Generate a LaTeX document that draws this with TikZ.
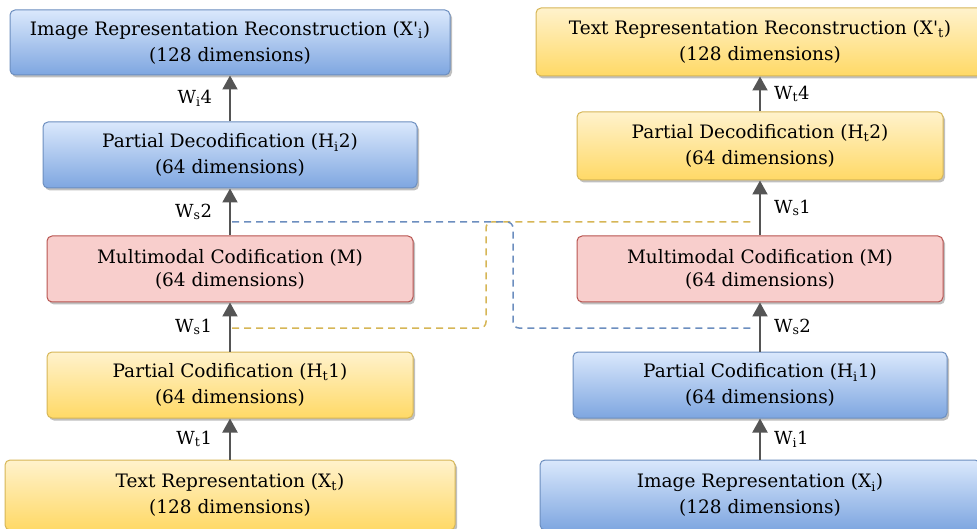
\documentclass[tikz,border=0pt]{standalone}
\usepackage{fontspec}
\setmainfont{DejaVu Serif}
\usetikzlibrary{shadows,arrows.meta}
\definecolor{blueA}{HTML}{DAE8FC}
\definecolor{blueB}{HTML}{7EA6E0}
\definecolor{blueS}{HTML}{6C8EBF}
\definecolor{yelA}{HTML}{FFF2CC}
\definecolor{yelB}{HTML}{FFD966}
\definecolor{yelS}{HTML}{D6B656}
\definecolor{redF}{HTML}{F8CECC}
\definecolor{redS}{HTML}{B85450}
\definecolor{arrowG}{HTML}{555555}
\tikzset{
  boxbase/.style={rounded corners=5pt, line width=1pt, align=center, inner sep=0pt,
    font=\fontsize{18.5}{26}\selectfont,
    drop shadow={shadow xshift=2pt, shadow yshift=-2.5pt, opacity=0.25, fill=black}},
  bluebox/.style={boxbase, draw=blueS, top color=blueA, bottom color=blueB},
  yelbox/.style={boxbase, draw=yelS, top color=yelA, bottom color=yelB},
  redbox/.style={boxbase, draw=redS, fill=redF, font=\fontsize{18.5}{23}\selectfont},
  flow/.style={draw=arrowG, line width=2pt, -{Triangle[width=15pt,length=14pt]}},
  wlab/.style={font=\fontsize{18}{20}\selectfont, inner sep=2pt},
  dashblue/.style={draw=blueS, line width=1.5pt, dash pattern=on 7pt off 5pt, rounded corners=6pt},
  dashyel/.style={draw=yelS, line width=1.5pt, dash pattern=on 7pt off 5pt, rounded corners=6pt}
}
\newcommand{\sbs}[1]{\textsubscript{#1}}
\newcommand{\apo}{\textquotesingle}
\begin{document}
\begin{tikzpicture}[x=1pt,y=1pt]
\useasboundingbox (0,0) rectangle (977,528);
% left column
\node[bluebox, minimum width=440pt, minimum height=65pt] (irr) at (230,485.5)
  {Image Representation Reconstruction (X\apo\sbs{i})\\(128 dimensions)};
\node[bluebox, minimum width=374pt, minimum height=66pt] (hi2) at (230,373)
  {Partial Decodification (H\sbs{i}2)\\(64 dimensions)};
\node[redbox, minimum width=366pt, minimum height=66pt] (ml) at (230,259)
  {Multimodal Codification (M)\\(64 dimensions)};
\node[yelbox, minimum width=366pt, minimum height=66pt] (ht1) at (230,143)
  {Partial Codification (H\sbs{t}1)\\(64 dimensions)};
\node[yelbox, minimum width=450pt, minimum height=70pt] (xt) at (230,33)
  {Text Representation (X\sbs{t})\\(128 dimensions)};
% right column
\node[yelbox, minimum width=448pt, minimum height=68pt] (trr) at (760,486)
  {Text Representation Reconstruction (X\apo\sbs{t})\\(128 dimensions)};
\node[yelbox, minimum width=366pt, minimum height=68pt] (ht2) at (760,382)
  {Partial Decodification (H\sbs{t}2)\\(64 dimensions)};
\node[redbox, minimum width=366pt, minimum height=66pt] (mr) at (760,259)
  {Multimodal Codification (M)\\(64 dimensions)};
\node[bluebox, minimum width=374pt, minimum height=66pt] (hi1) at (760,143)
  {Partial Codification (H\sbs{i}1)\\(64 dimensions)};
\node[bluebox, minimum width=440pt, minimum height=70pt] (xi) at (760,33)
  {Image Representation (X\sbs{i})\\(128 dimensions)};
% dashed cross links
\coordinate (bs) at (232,306);
\coordinate (be) at (755,200);
\coordinate (ys) at (232,200);
\coordinate (ye) at (755,306);
\draw[dashyel] (ys) -- (486,200) -- (486,306) -- (ye);
\draw[dashblue] (bs) -- (513,306) -- (513,200) -- (be);
% left arrows
\draw[flow] (xt.north) -- node[wlab, midway, left=15pt] {W\sbs{t}1} (ht1.south);
\draw[flow] (ht1.north) -- node[wlab, midway, left=15pt] {W\sbs{s}1} (ml.south);
\draw[flow] (ml.north) -- node[wlab, midway, left=15pt] {W\sbs{s}2} (hi2.south);
\draw[flow] (hi2.north) -- node[wlab, midway, left=15pt] {W\sbs{i}4} (irr.south);
% right arrows
\draw[flow] (xi.north) -- node[wlab, midway, right=11pt] {W\sbs{i}1} (hi1.south);
\draw[flow] (hi1.north) -- node[wlab, midway, right=11pt] {W\sbs{s}2} (mr.south);
\draw[flow] (mr.north) -- node[wlab, midway, right=11pt] {W\sbs{s}1} (ht2.south);
\draw[flow] (ht2.north) -- node[wlab, midway, right=11pt] {W\sbs{t}4} (trr.south);
\end{tikzpicture}
\end{document}
